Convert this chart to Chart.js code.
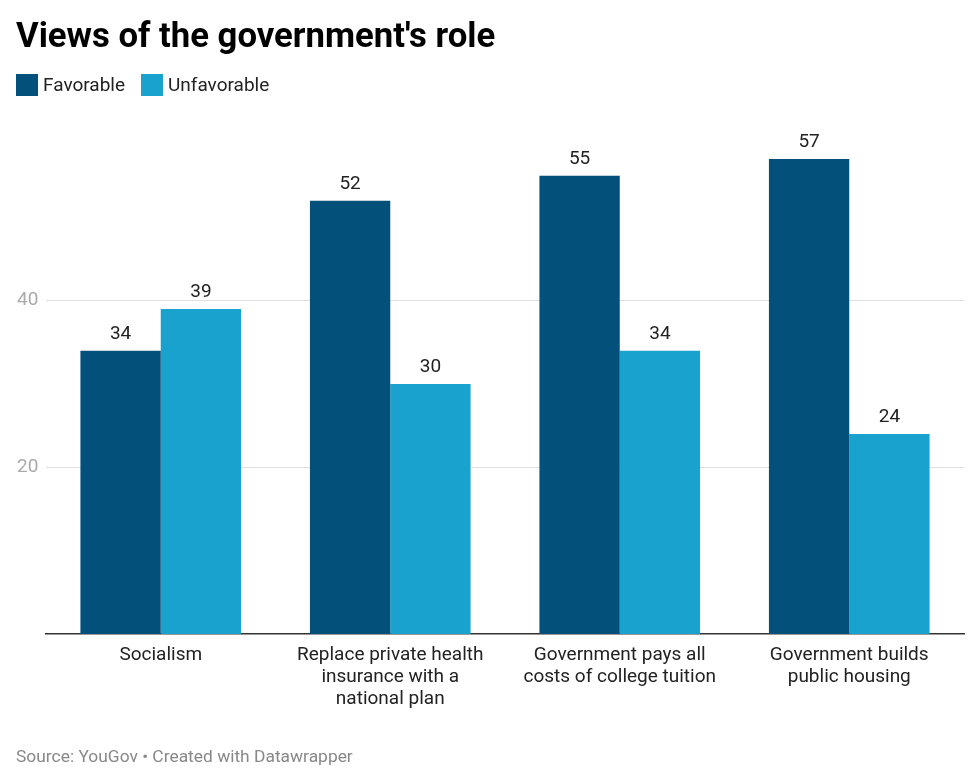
<!DOCTYPE html>
<html>
<head>
<meta charset="utf-8">
<script src="https://cdn.jsdelivr.net/npm/chart.js@4"></script>
<style>
  body { margin: 0; background: #fff; font-family: Roboto, sans-serif; }
  #wrap { position: relative; width: 980px; height: 782px; }
  #chart { position: absolute; left: 0; top: 0; }
  h1 { position: absolute; left: 16px; top: 18px; margin: 0; font-size: 34.7px; line-height: 34px; font-weight: 700; color: #000; }
  .legend { position: absolute; top: 74px; left: 16px; font-size: 19px; color: #222; }
  .item { position: absolute; top: 0; white-space: nowrap; line-height: 22px; }
  .box { display: inline-block; width: 22px; height: 22px; vertical-align: top; margin-right: 5px; }
  .source { position: absolute; left: 16px; top: 746px; font-size: 17.4px; color: #888; }
</style>
</head>
<body>
<div id="wrap">
  <canvas id="chart" width="980" height="782"></canvas>
  <h1>Views of the government's role</h1>
  <div class="legend" id="legend"></div>
  <div class="source">Source: YouGov • Created with Datawrapper</div>
</div>
<script>
/* global Chart */

const categories = [
  ["Socialism"],
  ["Replace private health", "insurance with a", "national plan"],
  ["Government pays all", "costs of college tuition"],
  ["Government builds", "public housing"]
];
const favorable = [34, 52, 55, 57];
const unfavorable = [39, 30, 34, 24];
const yTicks = [20, 40];

const seriesNames = ["Favorable", "Unfavorable"];
const colors = ["#03517a", "#1aa2cf"];

// legend in html
const legend = document.getElementById('legend');
const offsets = [0, 125];
seriesNames.forEach((name, i) => {
  const el = document.createElement('div');
  el.className = 'item';
  el.style.left = offsets[i] + 'px';
  el.innerHTML = '<span class="box" style="background:' + colors[i] + '"></span>' + name;
  legend.appendChild(el);
});

const valueLabels = {
  id: 'valueLabels',
  afterDatasetsDraw(chart) {
    const ctx = chart.ctx;
    ctx.save();
    ctx.font = '19px Roboto';
    ctx.fillStyle = '#222';
    ctx.textAlign = 'center';
    ctx.textBaseline = 'alphabetic';
    chart.data.datasets.forEach((ds, i) => {
      chart.getDatasetMeta(i).data.forEach((bar, j) => {
        ctx.fillText(ds.data[j], bar.x, bar.y - 12);
      });
    });
    ctx.restore();
  }
};

new Chart(document.getElementById('chart'), {
  type: 'bar',
  data: {
    labels: categories,
    datasets: [
      { label: seriesNames[0], data: favorable, backgroundColor: colors[0] },
      { label: seriesNames[1], data: unfavorable, backgroundColor: colors[1] }
    ]
  },
  options: {
    responsive: false,
    animation: false,
    categoryPercentage: 0.7,
    barPercentage: 1.0,
    layout: { padding: { left: 17, right: 16, top: 134, bottom: 0 } },
    plugins: {
      legend: { display: false },
      title: { display: false },
      tooltip: { enabled: false }
    },
    scales: {
      x: {
        grid: { display: false, drawTicks: false },
        border: { display: true, color: '#333', width: 1.5 },
        ticks: {
          color: '#222',
          padding: 10,
          maxRotation: 0,
          autoSkip: false,
          font: { family: 'Roboto', size: 19, lineHeight: 22 / 19 }
        },
        afterFit(axis) { axis.height = 148; }
      },
      y: {
        min: 0,
        max: 60,
        afterBuildTicks(axis) {
          axis.ticks = [0].concat(yTicks, [60]).map(v => ({ value: v }));
        },
        grid: { color: '#e0e0e0', drawTicks: false },
        border: { display: false },
        ticks: {
          color: '#aaa',
          crossAlign: 'far',
          padding: 0,
          font: { family: 'Roboto', size: 19 },
          callback(v) { return yTicks.includes(v) ? String(v) : null; }
        },
        afterFit(axis) { axis.width = 29; }
      }
    }
  },
  plugins: [valueLabels]
});
</script>
</body>
</html>
